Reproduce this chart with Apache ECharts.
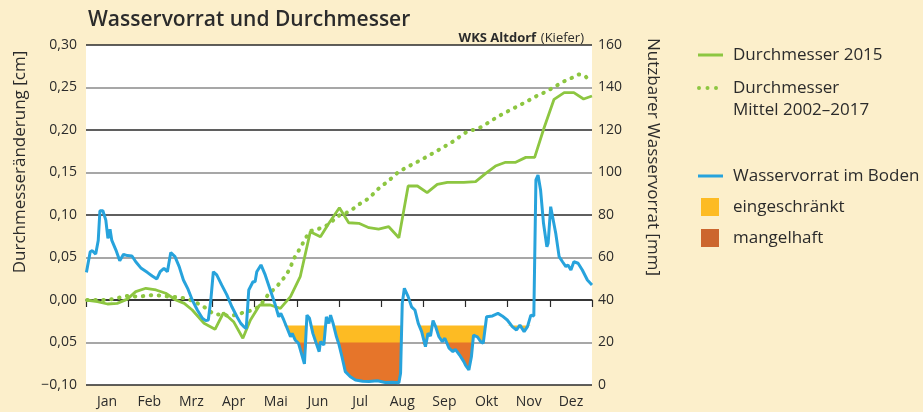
<!DOCTYPE html>
<html>
<head>
<meta charset="utf-8">
<script src="https://cdn.jsdelivr.net/npm/echarts@6/dist/echarts.min.js"></script>
<style>
html,body{margin:0;padding:0;background:#FCEFCB;}
#chart{width:923px;height:412px;}
</style>
</head>
<body>
<div id="chart"></div>
<script>
// Month categories (x positions of data are in fractional months, 0 = 1 Jan, 12 = 31 Dec)
const months = ['Jan','Feb','Mrz','Apr','Mai','Jun','Jul','Aug','Sep','Okt','Nov','Dez'];
const leftTickLabels = ['\u22120,10','0,05','0,00','0,05','0,10','0,15','0,20','0,25','0,30'];

// Wasservorrat im Boden [mm] (right axis)
const wasserMonat = [0.01,0.10,0.15,0.23,0.29,0.33,0.40,0.47,0.52,0.57,0.61,0.71,0.80,0.89,0.98,1.09,1.18,1.31,1.46,1.57,1.68,1.76,1.85,1.93,2.01,2.11,2.21,2.31,2.41,2.52,2.64,2.76,2.84,2.90,2.96,3.02,3.10,3.22,3.34,3.46,3.58,3.67,3.74,3.80,3.86,3.90,3.96,4.01,4.05,4.09,4.15,4.25,4.37,4.49,4.57,4.62,4.69,4.77,4.85,4.89,4.96,5.04,5.12,5.18,5.24,5.30,5.38,5.46,5.53,5.56,5.64,5.70,5.76,5.80,5.86,5.94,6.00,6.07,6.15,6.27,6.39,6.56,6.71,6.91,7.10,7.27,7.42,7.46,7.50,7.55,7.64,7.72,7.80,7.88,7.96,8.05,8.11,8.17,8.23,8.29,8.37,8.45,8.51,8.61,8.70,8.76,8.86,8.96,9.00,9.08,9.14,9.19,9.28,9.36,9.42,9.50,9.64,9.77,9.87,9.99,10.11,10.21,10.29,10.39,10.47,10.55,10.62,10.67,10.72,10.78,10.85,10.93,10.96,11.02,11.06,11.14,11.22,11.30,11.38,11.43,11.50,11.57,11.67,11.77,11.89,12.00];
const wasserMm = [53,62.7,63.2,61.6,68,82,82,77.6,69,73.3,68.2,63.5,58.5,61.5,60.9,60.7,58,54.9,52.9,51.3,49.9,53.3,54.9,53.3,62.3,60.4,55.7,49.4,45.5,40,35.3,31.4,30.3,30.6,40,53.3,51.8,47,42.4,36.8,32.1,29,27.5,26.5,44.7,43.9,48.6,48.6,53.3,52.6,56.5,51.8,44.7,37.6,32.1,33.7,30.6,26.7,22.7,24.3,21.2,19.6,14.1,9.9,32.9,31.4,24.3,19.6,15.7,20.4,18.8,32.1,29,32.9,29,22.7,19,13.3,6.3,3.9,2.4,1.8,1.6,2,1.2,1.3,1.1,5.5,38.4,45.5,41.6,36.8,35.3,29,25.1,18,24.3,23.1,30.3,27.5,22.7,20.4,22,17.3,15.7,16.8,14.1,11,9.4,7.1,13.3,23.5,22.7,20.4,19.6,32.1,32.5,33.7,32.5,30.6,27.5,25.9,28.2,25.1,27.5,32.9,32.5,96.5,98.8,91.8,76.1,65.1,66.7,83.9,83.1,71.4,60.4,58,55.7,56.5,54.1,58,57.3,54.1,49.4,47.1];

// Durchmesser 2015 [cm] (left axis)
const d2015Monat = [0,0.27,0.51,0.74,0.98,1.18,1.42,1.66,1.89,2.13,2.33,2.52,2.80,2.95,3.06,3.26,3.50,3.72,3.90,4.12,4.37,4.61,4.85,5.08,5.32,5.56,5.76,6.01,6.23,6.47,6.71,6.94,7.18,7.42,7.64,7.86,8.09,8.33,8.57,8.96,9.24,9.48,9.71,9.95,10.19,10.43,10.64,10.86,11.10,11.34,11.57,11.80,12.00];
const d2015Cm = [0,-0.002,-0.0047,-0.004,0.001,0.0098,0.0138,0.0118,0.0079,0,-0.004,-0.0118,-0.0274,-0.0314,-0.0345,-0.015,-0.0255,-0.045,-0.0235,-0.0059,-0.0059,-0.0098,0.0039,0.0274,0.0804,0.0745,0.0902,0.1086,0.0909,0.0902,0.0851,0.0835,0.0862,0.0733,0.1341,0.1341,0.1263,0.1361,0.1384,0.1384,0.1392,0.149,0.1576,0.162,0.162,0.1678,0.1678,0.202,0.2361,0.2439,0.2439,0.2365,0.24];

// Durchmesser Mittel 2002-2017 [cm] (left axis)
const dMittelMonat = [0.03,0.23,0.43,0.62,0.81,1.00,1.19,1.39,1.59,1.77,1.97,2.17,2.37,2.57,2.72,2.88,3.02,3.25,3.44,3.62,3.80,3.97,4.13,4.33,4.51,4.62,4.75,4.85,4.92,5.02,5.12,5.22,5.32,5.49,5.69,5.87,6.02,6.18,6.35,6.51,6.67,6.81,6.96,7.10,7.24,7.39,7.56,7.74,7.91,8.08,8.25,8.43,8.59,8.76,8.91,9.08,9.26,9.42,9.60,9.77,9.94,10.11,10.29,10.45,10.62,10.80,10.98,11.16,11.32,11.50,11.69,11.84,11.97];
const dMittelCm = [0,0,0,0.001,0.003,0.005,0.004,0.0047,0.0059,0.005,0.004,0.0032,0.002,-0.002,-0.0059,-0.0106,-0.0165,-0.0176,-0.0188,-0.0165,-0.0137,-0.0118,-0.0067,0.0071,0.0149,0.0216,0.0294,0.0385,0.0478,0.0561,0.0647,0.0738,0.0812,0.0832,0.0871,0.0941,0.10,0.1027,0.1078,0.1137,0.1184,0.1247,0.1321,0.1373,0.1431,0.1498,0.1549,0.1596,0.1639,0.1686,0.1733,0.1784,0.1831,0.1882,0.1941,0.1992,0.2008,0.2047,0.2106,0.2157,0.2204,0.2247,0.2294,0.2333,0.2385,0.2424,0.2471,0.2522,0.2569,0.2608,0.2655,0.2635,0.2557];

// Thresholds of soil water supply [mm]
const grenzeEingeschraenkt = 28;
const grenzeMangelhaft = 20;

const zip = (a, b) => a.map((v, i) => [v, b[i]]);
const wasserData = zip(wasserMonat, wasserMm);
const eingeschraenktData = wasserData.map(p => [p[0], Math.min(p[1], grenzeEingeschraenkt)]);
const mangelhaftData = wasserData.map(p => [p[0], Math.min(p[1], grenzeMangelhaft)]);

const FONT = 'Open Sans';
const TXT = '#2b2b2b';
const GREEN = '#8DC641';
const BLUE = '#27A3DC';
const YELLOW = '#FDBB23';
const ORANGE = '#E6752A';
const NAME_MITTEL = 'Durchmesser\nMittel 2002\u20132017';
const legendText = {fontFamily: FONT, fontSize: 17, color: TXT};
const ICON_LINE = 'path://M0,0H25V3H0Z';
const ICON_DOTS = 'path://M0,2A2,2 0 1 1 4,2A2,2 0 1 1 0,2ZM8.5,2A2,2 0 1 1 12.5,2A2,2 0 1 1 8.5,2ZM17,2A2,2 0 1 1 21,2A2,2 0 1 1 17,2Z';

const chart = echarts.init(document.getElementById('chart'), null, {renderer: 'canvas'});
const option = {
  backgroundColor: '#FCEFCB',
  animation: false,
  textStyle: {fontFamily: FONT, color: TXT},
  title: [
    {text: 'Wasservorrat und Durchmesser', left: 83, top: 5,
     textStyle: {fontFamily: FONT, fontSize: 21, fontWeight: 600, color: TXT}},
    {text: '{b|WKS Altdorf} {n|(Kiefer)}', right: 334, top: 24,
     textStyle: {fontWeight: 'normal', rich: {
       b: {fontFamily: FONT, fontSize: 13, fontWeight: 'bold', color: TXT},
       n: {fontFamily: FONT, fontSize: 13, fontWeight: 'normal', color: TXT}}}}
  ],
  grid: {left: 86, right: 331, top: 45, bottom: 27, show: true, backgroundColor: '#ffffff', borderWidth: 0, containLabel: false},
  legend: [
    {data: [{name: 'Durchmesser 2015', icon: ICON_LINE, itemStyle: {color: GREEN}}], left: 698, top: 45, orient: 'vertical', padding: 0, selectedMode: false,
     itemWidth: 25, itemHeight: 20,
     textStyle: Object.assign({lineHeight: 20, padding: [0,0,0,5]}, legendText)},
    {data: [{name: NAME_MITTEL, icon: ICON_DOTS, itemStyle: {color: GREEN}}], formatter: n => '\n' + n,
     left: 697, top: 55, orient: 'vertical', padding: 0, selectedMode: false,
     itemWidth: 21, itemHeight: 20,
     textStyle: Object.assign({lineHeight: 22, padding: [0,0,0,10]}, legendText)},
    {data: [{name: 'Wasservorrat im Boden', icon: ICON_LINE, itemStyle: {color: BLUE}}], left: 698, top: 166, orient: 'vertical', padding: 0, selectedMode: false,
     itemWidth: 25, itemHeight: 20,
     textStyle: Object.assign({lineHeight: 20, padding: [0,0,0,5]}, legendText)},
    {data: [{name: 'eingeschränkt', icon: 'rect', itemStyle: {color: YELLOW}}], left: 701, top: 198, padding: 0, selectedMode: false,
     itemWidth: 18, itemHeight: 18,
     textStyle: Object.assign({lineHeight: 18, padding: [0,0,0,9]}, legendText)},
    {data: [{name: 'mangelhaft', icon: 'rect', itemStyle: {color: '#CC662E'}}], left: 701, top: 229, padding: 0, selectedMode: false,
     itemWidth: 18, itemHeight: 18,
     textStyle: Object.assign({lineHeight: 18, padding: [0,0,0,9]}, legendText)}
  ],
  xAxis: [
    {type: 'category', data: months, boundaryGap: true, position: 'bottom',
     axisLine: {show: true, lineStyle: {color: '#2a2a2a', width: 1.5}},
     axisTick: {show: true, length: 7, inside: false, lineStyle: {color: '#2a2a2a', width: 1.2}},
     axisLabel: {fontFamily: FONT, fontSize: 14, color: TXT, margin: 10},
     splitLine: {show: false}},
    {type: 'value', min: 0, max: 12, show: false}
  ],
  yAxis: [
    {type: 'value', min: -0.10, max: 0.30, interval: 0.05, position: 'left',
     name: 'Durchmesseränderung [cm]', nameLocation: 'middle', nameGap: 57, nameRotate: 90,
     nameTextStyle: {fontFamily: FONT, fontSize: 17, color: TXT, padding: [0,0,0,106]},
     axisLine: {show: false}, axisTick: {show: false},
     axisLabel: {fontFamily: FONT, fontSize: 14, color: TXT, margin: 9,
       formatter: v => leftTickLabels[Math.round((v + 0.10) / 0.05)]},
     splitLine: {show: true, lineStyle: {color: ['#2a2a2a', '#8a8a8a'], width: 1.5}}},
    {type: 'value', min: 0, max: 160, interval: 20, position: 'right',
     name: 'Nutzbarer Wasservorrat [mm]', nameLocation: 'middle', nameGap: 52, nameRotate: -90,
     nameTextStyle: {fontFamily: FONT, fontSize: 17, color: TXT, padding: [0,116,0,0]},
     axisLine: {show: false}, axisTick: {show: false},
     axisLabel: {fontFamily: FONT, fontSize: 14, color: TXT, margin: 6},
     splitLine: {show: false}}
  ],
  series: [
    {name: 'eingeschränkt', type: 'line', xAxisIndex: 1, yAxisIndex: 1, data: eingeschraenktData,
     symbol: 'none', silent: true, z: 1, color: YELLOW,
     lineStyle: {width: 0, color: YELLOW}, itemStyle: {color: YELLOW},
     areaStyle: {color: YELLOW, opacity: 1, origin: grenzeEingeschraenkt}},
    {name: 'mangelhaft', type: 'line', xAxisIndex: 1, yAxisIndex: 1, data: mangelhaftData,
     symbol: 'none', silent: true, z: 2, color: ORANGE,
     lineStyle: {width: 0, color: ORANGE}, itemStyle: {color: ORANGE},
     areaStyle: {color: ORANGE, opacity: 1, origin: grenzeMangelhaft}},
    {name: 'Durchmesser 2015', type: 'line', xAxisIndex: 1, yAxisIndex: 0, data: zip(d2015Monat, d2015Cm),
     symbol: 'none', z: 3, color: GREEN, lineStyle: {color: GREEN, width: 2.8}},
    {name: NAME_MITTEL, type: 'line', xAxisIndex: 1, yAxisIndex: 0, data: zip(dMittelMonat, dMittelCm),
     symbol: 'none', z: 3, color: GREEN,
     lineStyle: {color: GREEN, width: 4, type: [0.5, 7.5], cap: 'round'}},
    {name: 'Wasservorrat im Boden', type: 'line', xAxisIndex: 1, yAxisIndex: 1, data: wasserData,
     symbol: 'none', z: 4, color: BLUE, lineStyle: {color: BLUE, width: 3}}
  ]
};
chart.setOption(option);
</script>
</body>
</html>
